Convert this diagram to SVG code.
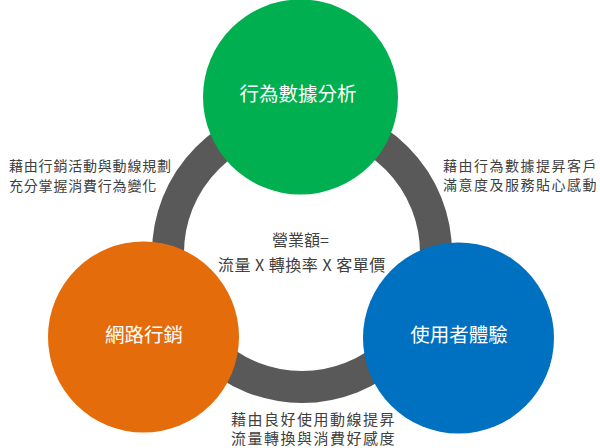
<svg xmlns="http://www.w3.org/2000/svg" width="600" height="448" viewBox="0 0 600 448">
  <style>
    .lbl { font-family: "Noto Sans CJK TC", "Noto Sans CJK SC", sans-serif; fill: #ffffff; font-size: 19.5px; text-anchor: middle; }
    .note { font-family: "Noto Sans CJK TC", "Noto Sans CJK SC", sans-serif; fill: #404040; }
    .ring { fill: none; stroke: #595959; stroke-width: 32; }
  </style>
  <rect width="600" height="448" fill="#ffffff"/>
  <g id="connectors">
    <circle class="ring" cx="302" cy="253" r="134"/>
  </g>
  <g id="node-behavior">
    <circle cx="300.5" cy="97" r="97.5" fill="#00B050"/>
    <text class="lbl" x="298" y="100.5">行為數據分析</text>
  </g>
  <g id="node-marketing">
    <circle cx="143.5" cy="337" r="95.5" fill="#E46C0A"/>
    <text class="lbl" x="144" y="342">網路行銷</text>
  </g>
  <g id="node-ux">
    <circle cx="458.5" cy="338" r="95.5" fill="#0070C0"/>
    <text class="lbl" x="459" y="342">使用者體驗</text>
  </g>
  <g id="notes">
    <text class="note" font-size="14" letter-spacing="0.8" x="9" y="171">藉由行銷活動與動線規劃</text>
    <text class="note" font-size="14" letter-spacing="0.8" x="9" y="190.5">充分掌握消費行為變化</text>
    <text class="note" font-size="14" letter-spacing="1.5" x="443" y="171">藉由行為數據提昇客戶</text>
    <text class="note" font-size="14" letter-spacing="1.5" x="443" y="189.5">滿意度及服務貼心感動</text>
    <text class="note" font-size="15" letter-spacing="1.5" x="231" y="424.5">藉由良好使用動線提昇</text>
    <text class="note" font-size="15" letter-spacing="1.5" x="231" y="443.5">流量轉換與消費好感度</text>
    <text class="note" font-size="16" x="272" y="246">營業額=</text>
    <text class="note" font-size="16" letter-spacing="0.5" x="218" y="271">流量 X 轉換率 X 客單價</text>
  </g>
</svg>
